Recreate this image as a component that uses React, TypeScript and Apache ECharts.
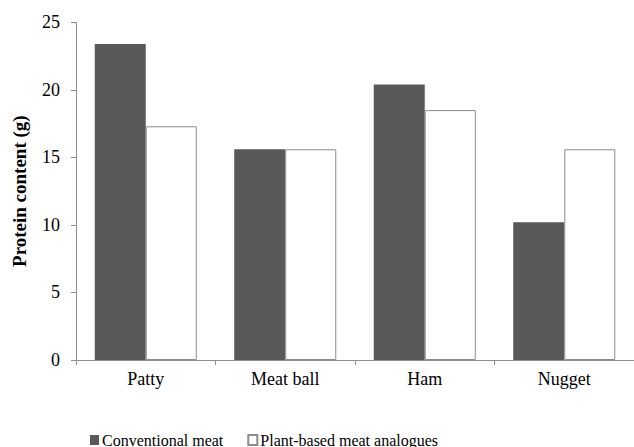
import React, { useEffect, useRef } from "react";
import * as echarts from "echarts";

const categories = ["Patty", "Meat ball", "Ham", "Nugget"];
const conventionalMeat = [23.4, 15.6, 20.4, 10.2];
const plantBased = [17.3, 15.6, 18.5, 15.6];
const seriesNames = ["Conventional meat", "Plant-based meat analogues"];

const FONT = "Liberation Serif";

export default function App() {
  const ref = useRef<HTMLDivElement>(null);
  useEffect(() => {
    if (!ref.current) return;
    const chart = echarts.init(ref.current, undefined, { renderer: "svg" });
    chart.setOption({
      animation: false,
      backgroundColor: "#ffffff",
      textStyle: { fontFamily: FONT },
      grid: { left: 76, top: 22.3, bottom: 87, right: -9.6, containLabel: false },
      legend: {
        left: 90,
        top: 432,
        padding: 0,
        itemWidth: 9,
        itemHeight: 10,
        itemGap: 24,
        icon: "rect",
        textStyle: { fontFamily: FONT, fontSize: 16, color: "#000", padding: [0, 0, 0, -2] },
        data: seriesNames,
      },
      xAxis: {
        type: "category",
        data: categories,
        axisLine: { lineStyle: { color: "#8e8e8e", width: 1 } },
        axisTick: { show: true, length: 5, alignWithLabel: false, lineStyle: { color: "#8e8e8e" } },
        axisLabel: { fontFamily: FONT, fontSize: 18, color: "#000", margin: 10 },
      },
      yAxis: {
        type: "value",
        min: 0,
        max: 25,
        interval: 5,
        name: "Protein content (g)",
        nameLocation: "middle",
        nameGap: 47,
        nameTextStyle: { fontFamily: FONT, fontSize: 19, fontWeight: "bold", color: "#000" },
        splitLine: { show: false },
        axisLine: { show: true, lineStyle: { color: "#8e8e8e", width: 1 } },
        axisTick: { show: true, length: 5, lineStyle: { color: "#8e8e8e" } },
        axisLabel: { fontFamily: FONT, fontSize: 18, color: "#000", margin: 16 },
      },
      series: [
        {
          name: seriesNames[0],
          type: "bar",
          data: conventionalMeat,
          barWidth: 51,
          barGap: "0%",
          itemStyle: { color: "#595959" },
        },
        {
          name: seriesNames[1],
          type: "bar",
          data: plantBased,
          barWidth: 51,
          barGap: "0%",
          itemStyle: { color: "#ffffff", borderColor: "#8c8c8c", borderWidth: 1 },
        },
      ],
    });
    return () => chart.dispose();
  }, []);
  return (
    <div
      ref={ref}
      style={{ position: "absolute", left: 0, top: 0, width: 634, height: 447 }}
    />
  );
}
